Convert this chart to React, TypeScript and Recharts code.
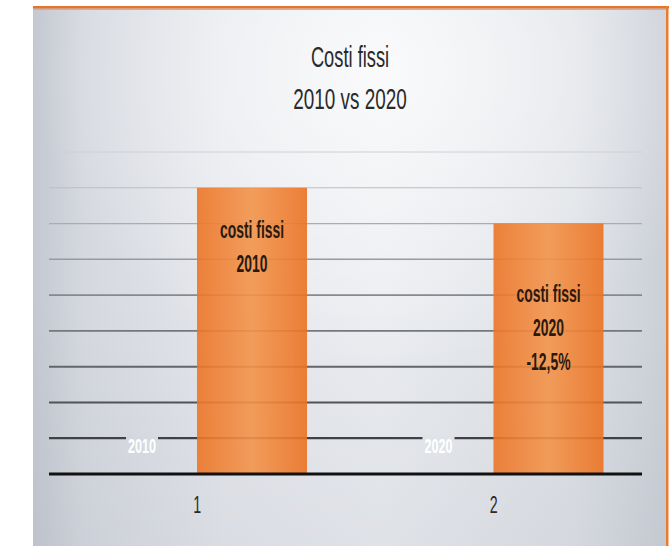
import React from 'react';
import { BarChart, Bar, XAxis, YAxis, CartesianGrid } from 'recharts';

// ---- data ----
const categories = ['1', '2'];
const yearLabels = ['2010', '2020'];
const hiddenValues = [0, 0];
const costValues = [8, 7];
const costLabels = [
  ['costi fissi', '2010'],
  ['costi fissi', '2020', '-12,5%'],
];
const titleLines = ['Costi fissi', '2010 vs 2020'];
const yTicks = [0, 1, 2, 3, 4, 5, 6, 7, 8, 9];

const data = categories.map((c, i) => ({
  cat: c,
  year: hiddenValues[i],
  cost: costValues[i],
  yearLabel: yearLabels[i],
  costLabel: costLabels[i],
}));

// ---- style constants ----
const FONT = '"Liberation Sans", Arial, sans-serif';
const W = 672;
const H = 546;
const MARGIN = { top: 152, right: 30, bottom: 32, left: 49 };
const PLOT_TOP = MARGIN.top;
const PLOT_BOTTOM = 474;
const LABEL_FIRST_OFFSET = [50, 78];
const LABEL_LINE_H = 34;

const lerp = (a: number, b: number, t: number) => Math.round(a + (b - a) * t);

const gridLine = (props: any) => {
  const { x1, x2, y1, y2 } = props;
  const t = (y1 - PLOT_TOP) / (PLOT_BOTTOM - PLOT_TOP);
  if (t > 0.97) return <g key={`g-${y1}`} />;
  const u = Math.max(0, Math.min(1, t / 0.89));
  const c = `rgb(${lerp(205, 62, u)},${lerp(208, 65, u)},${lerp(214, 70, u)})`;
  const w = 1 + 1.3 * u;
  return <line key={`g-${y1}`} x1={x1} x2={x2} y1={y1} y2={y2} stroke={c} strokeWidth={w} />;
};

const AxisTick = (props: any) => {
  const { x, y, payload } = props;
  return (
    <text
      transform={`translate(${x},${y + 39}) scale(0.62,1)`}
      textAnchor="middle"
      fontFamily={FONT}
      fontSize={23}
      fill="#2a2a2a"
    >
      {payload.value}
    </text>
  );
};

const YearShape = (props: any) => {
  const { x, y, width, payload } = props;
  const cx = x + width / 2;
  return (
    <g>
      <rect x={cx - 16} y={y - 39} width={32} height={21} fill="url(#bgHU)" />
      <rect x={cx - 16} y={y - 39} width={32} height={21} fill="#9aa0aa" fillOpacity={0.08} />
      <text
        transform={`translate(${cx},${y - 21}) scale(0.6,1)`}
        textAnchor="middle"
        fontFamily={FONT}
        fontWeight="bold"
        fontSize={21}
        fill="#ffffff"
      >
        {payload.yearLabel}
      </text>
    </g>
  );
};

const CostShape = (props: any) => {
  const { x, y, width, height, payload, index } = props;
  const cx = x + width / 2;
  const lines: string[] = payload.costLabel;
  const start = y + LABEL_FIRST_OFFSET[index ?? 0];
  return (
    <g>
      <rect x={x} y={y} width={width} height={height} fill="url(#barGrad)" fillOpacity={0.9} />
      {lines.map((l, j) => (
        <text
          key={j}
          transform={`translate(${cx},${start + j * LABEL_LINE_H}) scale(0.58,1)`}
          textAnchor="middle"
          fontFamily={FONT}
          fontWeight="bold"
          fontSize={24}
          fill="#2a1a10"
        >
          {l}
        </text>
      ))}
    </g>
  );
};

export default function App() {
  return (
    <div style={{ position: 'absolute', left: 0, top: 0, width: W, height: H, background: '#fff', overflow: 'hidden' }}>
      <svg width={W} height={H} style={{ position: 'absolute', left: 0, top: 0 }}>
        <defs>
          <linearGradient id="bgH" x1="0" y1="0" x2="1" y2="0">
            <stop offset="0" stopColor="#c4c8d1" />
            <stop offset="0.08" stopColor="#d5d8df" />
            <stop offset="0.3" stopColor="#e4e6eb" />
            <stop offset="0.55" stopColor="#eaecf0" />
            <stop offset="0.85" stopColor="#dee1e6" />
            <stop offset="1" stopColor="#cbcfd7" />
          </linearGradient>
          <linearGradient id="bgHU" gradientUnits="userSpaceOnUse" x1="33" y1="0" x2="668" y2="0">
            <stop offset="0" stopColor="#c4c8d1" />
            <stop offset="0.08" stopColor="#d5d8df" />
            <stop offset="0.3" stopColor="#e4e6eb" />
            <stop offset="0.55" stopColor="#eaecf0" />
            <stop offset="0.85" stopColor="#dee1e6" />
            <stop offset="1" stopColor="#cbcfd7" />
          </linearGradient>
          <radialGradient id="bgGlow" cx="0.55" cy="0.12" r="0.55">
            <stop offset="0" stopColor="#ffffff" stopOpacity={0.75} />
            <stop offset="1" stopColor="#ffffff" stopOpacity={0} />
          </radialGradient>
          <linearGradient id="bgV" x1="0" y1="0" x2="0" y2="1">
            <stop offset="0.55" stopColor="#8f96a3" stopOpacity={0} />
            <stop offset="1" stopColor="#8f96a3" stopOpacity={0.12} />
          </linearGradient>
          <linearGradient id="barGrad" x1="0" y1="0" x2="1" y2="0">
            <stop offset="0" stopColor="#ec7527" />
            <stop offset="0.5" stopColor="#f3944b" />
            <stop offset="1" stopColor="#eb7222" />
          </linearGradient>
        </defs>
        <rect x={33} y={6} width={635} height={540} fill="url(#bgH)" />
        <rect x={33} y={6} width={635} height={540} fill="url(#bgGlow)" />
        <rect x={33} y={6} width={635} height={540} fill="url(#bgV)" />
        <rect x={33} y={8.5} width={633} height={1.5} fill="#b3b7bd" />
        <rect x={33} y={6} width={636} height={2.5} fill="#e8732a" />
        <rect x={666} y={6} width={2.5} height={540} fill="#ec7a30" />
        <text
          transform={`translate(350,66.7) scale(0.61,1)`}
          textAnchor="middle"
          fontFamily={FONT}
          fontSize={30}
          fill="#2a2a2a"
        >
          {titleLines[0]}
        </text>
        <text
          transform={`translate(350,109) scale(0.63,1)`}
          textAnchor="middle"
          fontFamily={FONT}
          fontSize={30}
          fill="#2a2a2a"
        >
          {titleLines[1]}
        </text>
      </svg>
      <div style={{ position: 'absolute', left: 0, top: 0 }}>
        <BarChart width={W} height={H} data={data} margin={MARGIN} barGap={0} barSize={110}>
          <CartesianGrid vertical={false} horizontal={gridLine} />
          <YAxis hide type="number" domain={[0, 9]} ticks={yTicks} />
          <XAxis
            dataKey="cat"
            axisLine={{ stroke: '#111', strokeWidth: 3 }}
            tickLine={false}
            tickSize={0}
            tickMargin={0}
            height={40}
            interval={0}
            tick={<AxisTick />}
          />
          <Bar dataKey="year" isAnimationActive={false} shape={YearShape} />
          <Bar dataKey="cost" isAnimationActive={false} shape={CostShape} />
        </BarChart>
      </div>
    </div>
  );
}
